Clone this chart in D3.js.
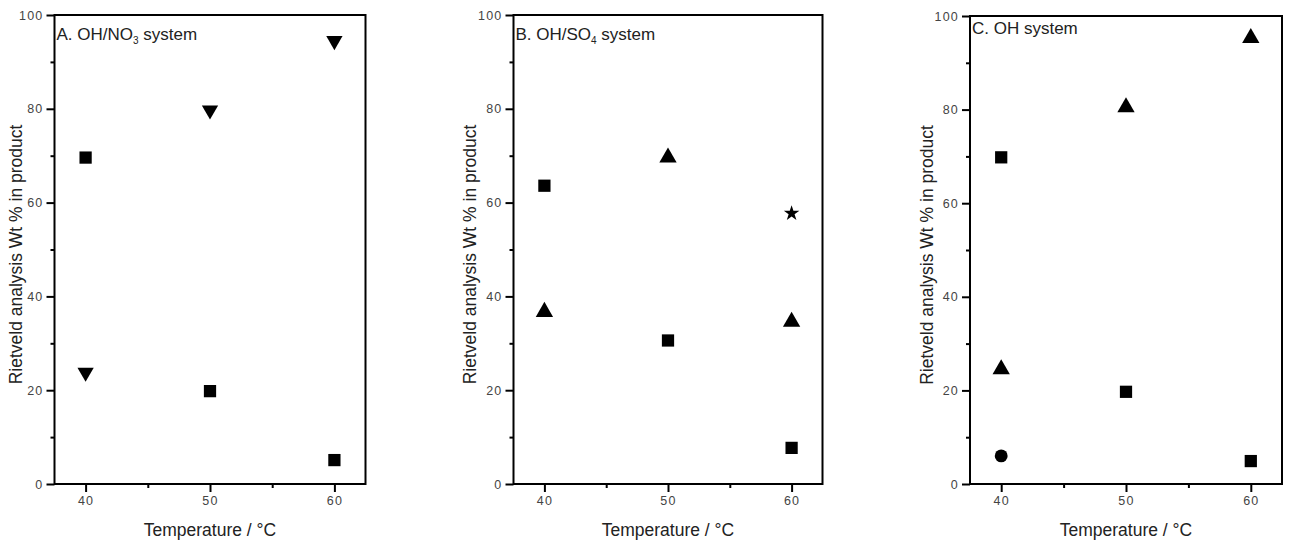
<!DOCTYPE html>
<html><head><meta charset="utf-8">
<script src="https://cdn.jsdelivr.net/npm/d3@7"></script>
<style>
body{margin:0;background:#fff;}
svg{display:block;font-family:"Liberation Sans",Arial,sans-serif;}
</style></head>
<body><svg id="c" width="1289" height="547"></svg>
<script>
// ---- data ----
const temps = [40, 50, 60];
const xTicks = [40, 50, 60];
const xMinorTicks = [45, 55];
const yTicks = [0, 20, 40, 60, 80, 100];
const yMinorTicks = [10, 30, 50, 70, 90];

// Panel A: OH/NO3 system
const aSquare = [69.6, 19.8, 5.1];
const aDownTri = [23.8, 79.7, 94.5];
// Panel B: OH/SO4 system
const bSquare = [63.6, 30.6, 7.7];
const bTri = [36.7, 69.6, 34.6];
const bStarTemp = [60];
const bStar = [57.7];
// Panel C: OH system
const cSquare = [69.8, 19.7, 4.9];
const cTri = [24.5, 80.5, 95.3];
const cCircleTemp = [40];
const cCircle = [6.0];

const xLabel = "Temperature / °C";
const yLabel = "Rietveld analysis Wt % in product";

// ---- layout ----
const panels = [
  {left:54.5, right:365.5, top:15, bottom:484, ylabX:37, title:["A. OH/NO","3"," system"], titleY:36,
   series:[{t:temps, v:aSquare, sym:"square"},{t:temps, v:aDownTri, sym:"down"}]},
  {left:513.5, right:822.5, top:15, bottom:484, ylabX:42, title:["B. OH/SO","4"," system"], titleY:36,
   series:[{t:temps, v:bSquare, sym:"square"},{t:temps, v:bTri, sym:"up"},{t:bStarTemp, v:bStar, sym:"star"}]},
  {left:970, right:1282, top:16, bottom:484, ylabX:42, title:["C. OH system"], titleY:30,
   series:[{t:temps, v:cSquare, sym:"square"},{t:temps, v:cTri, sym:"up"},{t:cCircleTemp, v:cCircle, sym:"circle"}]}
];

const svg = d3.select("#c");
const symGen = {
  square: d3.symbol().type(d3.symbolSquare).size(150),
  up: d3.symbol().type(d3.symbolTriangle).size(130),
  down: d3.symbol().type(d3.symbolTriangle).size(115),
  star: d3.symbol().type(d3.symbolStar).size(75),
  circle: d3.symbol().type(d3.symbolCircle).size(130)
};

panels.forEach(p => {
  const x = d3.scaleLinear().domain([37.5, 62.5]).range([p.left, p.right]);
  const y = d3.scaleLinear().domain([0, 100]).range([p.bottom, p.top]);
  const g = svg.append("g");

  const xa = g.append("g").attr("transform", `translate(0,${p.bottom})`)
    .call(d3.axisBottom(x).tickValues(xTicks).tickSize(8).tickSizeOuter(0).tickPadding(4).tickFormat(d3.format("d")));
  const xm = g.append("g").attr("transform", `translate(0,${p.bottom})`)
    .call(d3.axisBottom(x).tickValues(xMinorTicks).tickSize(4).tickSizeOuter(0).tickFormat(""));
  const ya = g.append("g").attr("transform", `translate(${p.left},0)`)
    .call(d3.axisLeft(y).tickValues(yTicks).tickSize(8).tickSizeOuter(0).tickPadding(3).tickFormat(d3.format("d")));
  const ym = g.append("g").attr("transform", `translate(${p.left},0)`)
    .call(d3.axisLeft(y).tickValues(yMinorTicks).tickSize(4).tickSizeOuter(0).tickFormat(""));
  [xa, xm, ya, ym].forEach(a => {
    a.select(".domain").remove();
    a.selectAll(".tick line").attr("stroke", "#000").attr("stroke-width", 2);
    a.selectAll(".tick text").attr("fill", "#444").style("font-size", "12.5px").style("letter-spacing", "1.2px");
  });

  g.append("rect").attr("x", p.left).attr("y", p.top)
    .attr("width", p.right - p.left).attr("height", p.bottom - p.top)
    .attr("fill", "none").attr("stroke", "#000").attr("stroke-width", 2);

  g.append("text").attr("x", x(50)).attr("y", 536)
    .attr("text-anchor", "middle").attr("fill", "#222").style("font-size", "17.5px").text(xLabel);
  g.append("text").attr("transform", `translate(${p.left - p.ylabX},${(p.top + p.bottom) / 2 + 5}) rotate(-90)`)
    .attr("text-anchor", "middle").attr("dominant-baseline", "middle")
    .attr("fill", "#222").style("font-size", "17.5px").text(yLabel);

  const tt = g.append("text").attr("x", p.left + 2).attr("y", p.titleY)
    .attr("dominant-baseline", "middle").attr("fill", "#222").style("font-size", "17px");
  tt.append("tspan").text(p.title[0]);
  if (p.title.length > 1) {
    tt.append("tspan").attr("dy", 5).style("font-size", "10px").text(p.title[1]);
    tt.append("tspan").attr("dy", -5).text(p.title[2]);
  }

  p.series.forEach(s => {
    g.append("g").selectAll("path").data(s.t.map((t, i) => ({t, v: s.v[i]}))).join("path")
      .attr("d", symGen[s.sym])
      .attr("transform", d => `translate(${x(d.t)},${y(d.v)})` + (s.sym === "down" ? " rotate(180)" : ""))
      .attr("fill", "#000");
  });
});
</script></body></html>
